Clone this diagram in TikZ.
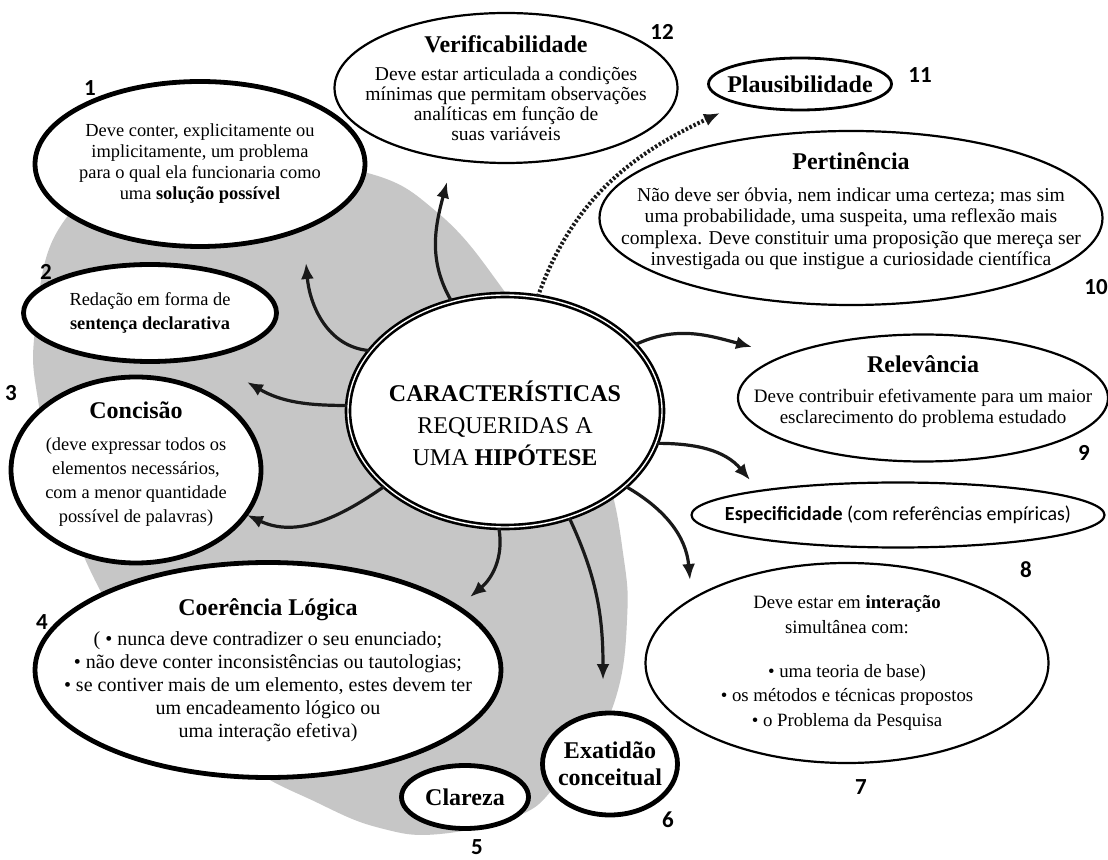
\documentclass[tikz,border=0pt]{standalone}
\usepackage{fontspec}
\setmainfont{Liberation Serif}
\newfontfamily\numfont{Carlito}
\usetikzlibrary{arrows.meta,shapes.geometric}
\definecolor{blobc}{HTML}{C6C6C6}
\tikzset{
  bub/.style={ellipse,draw,line width=1.1pt,fill=white,inner sep=0pt},
  bubthick/.style={bub,line width=2.4pt},
  txt/.style={align=center,inner sep=0pt,font=\fontsize{9.2}{10.5}\selectfont},
  num/.style={inner sep=0pt,font=\numfont\bfseries\fontsize{11.5}{12}\selectfont},
  ar/.style={-{Latex[length=8pt,width=6.5pt]},line width=1.6pt,black!90}
}
\newcommand{\ttl}[1]{{\fontsize{12}{14}\selectfont\bfseries #1}}

\begin{document}
\begin{tikzpicture}[x=0.5pt,y=-0.5pt]
\useasboundingbox (0,0) rectangle (1108,860);
\fill[white] (0,0) rectangle (1108,860);
% grey area behind the left group
\fill[blobc] plot[smooth cycle,tension=0.7] coordinates {(364,172) (438,213) (502,288) (560,380) (605,470) (624,560) (627,620) (618,690) (593,745) (557,785) (520,815) (440,834) (380,828) (318,803) (240,760) (160,680) (100,590) (60,490) (38,400) (35,330) (57,232) (120,185) (240,160)};

% bubbles
\node[bubthick,minimum width=165pt,minimum height=82.5pt] (e1) at (200,164) {};
\node[bubthick,minimum width=126.5pt,minimum height=48.5pt] (e2) at (150,313) {};
\node[bubthick,minimum width=125pt,minimum height=93pt] (e3) at (136,470) {};
\node[bubthick,minimum width=233pt,minimum height=107.5pt] (e4) at (268,670) {};
\node[bubthick,minimum width=63.5pt,minimum height=31.5pt] (e5) at (465,797) {};
\node[bubthick,minimum width=67.5pt,minimum height=51pt] (e6) at (610,764) {};
\node[bub,minimum width=201.5pt,minimum height=100pt] (e7) at (847,663) {};
\node[bub,minimum width=206.5pt,minimum height=32.5pt] (e8) at (898,515) {};
\node[bub,minimum width=185pt,minimum height=63.5pt] (e9) at (923,398) {};
\node[bub,minimum width=251.5pt,minimum height=87pt] (e10) at (851,218) {};
\node[bub,line width=1.4pt,minimum width=91.5pt,minimum height=26pt] (e11) at (800,84) {};
\node[bub,minimum width=171.5pt,minimum height=75pt] (e12) at (506,88) {};
\node[bub,minimum width=157pt,minimum height=116pt,line width=1.3pt,double=white,double distance=0.7pt] (c) at (505,411) {};

% texts
\node[txt] (t1) at (e1) {Deve conter, explicitamente ou\\implicitamente, um problema\\para o qual ela funcionaria como\\uma \textbf{solução possível}};
\node[txt,font=\fontsize{9.2}{12}\selectfont] (t2) at (e2) {Redação em forma de\\\textbf{sentença declarativa}};
\node[txt,font=\fontsize{9.2}{12}\selectfont] (t3) at ([yshift=3pt]e3) {\ttl{Concisão}\\[4pt](deve expressar todos os\\elementos necessários,\\com a menor quantidade\\possível de palavras)};
\node[txt,font=\fontsize{10}{11.5}\selectfont] (t4) at (e4) {\ttl{Coerência Lógica}\\[3.5pt]( • nunca deve contradizer o seu enunciado;\\• não deve conter inconsistências ou tautologias;\\• se contiver mais de um elemento, estes devem ter\\um encadeamento lógico ou\\uma interação efetiva)};
\node[txt] (t5) at (e5) {\ttl{Clareza}};
\node[txt,font=\fontsize{12}{13.5}\selectfont\bfseries] (t6) at (e6) {Exatidão\\conceitual};
\node[txt,font=\fontsize{9.4}{12.3}\selectfont] (t7) at (e7) {Deve estar em \textbf{interação}\\simultânea com:\\[9.5pt]• uma teoria de base)\\• os métodos e técnicas propostos\\• o Problema da Pesquisa};
\node[txt,font=\numfont\fontsize{10}{12}\selectfont] (t8) at (e8) {\textbf{Especificidade} (com referências empíricas)};
\node[txt,font=\fontsize{9.5}{10.5}\selectfont] (t9) at ([yshift=3pt]e9) {\ttl{Relevância}\\[4.5pt]Deve contribuir efetivamente para um maior\\esclarecimento do problema estudado};
\node[txt,font=\fontsize{9.8}{10.6}\selectfont] (t10) at ([yshift=3.5pt]e10) {\ttl{Pertinência}\\[5.5pt]Não deve ser óbvia, nem indicar uma certeza; mas sim\\uma probabilidade, uma suspeita, uma reflexão mais\\complexa. Deve constituir uma proposição que mereça ser\\investigada ou que instigue a curiosidade científica};
\node[txt] (t11) at (e11) {\ttl{Plausibilidade}};
\node[txt,font=\fontsize{9.8}{10}\selectfont] (t12) at (e12) {\ttl{Verificabilidade}\\[4pt]Deve estar articulada a condições\\mínimas que permitam observações\\analíticas em função de\\suas variáveis};
\node[align=center,inner sep=0pt,font=\fontsize{12}{16}\selectfont] (tc) at ([yshift=-6pt]c) {\textbf{CARACTERÍSTICAS}\\REQUERIDAS A\\UMA \textbf{HIPÓTESE}};

% numbers
\node[num] (n1) at (90,88) {1};
\node[num] (n2) at (46,272) {2};
\node[num] (n3) at (11,393) {3};
\node[num] (n4) at (42,622) {4};
\node[num] (n5) at (477,847) {5};
\node[num] (n6) at (668,820) {6};
\node[num] (n7) at (861,787) {7};
\node[num] (n8) at (1026,570) {8};
\node[num] (n9) at (1084,453) {9};
\node[num] (n10) at (1096,287) {10};
\node[num] (n11) at (920,75) {11};
\node[num] (n12) at (662,32) {12};

% arrow tips
\coordinate (h1) at (306,263);
\coordinate (h12) at (447,182);
\coordinate (h2) at (247,382);
\coordinate (h3) at (247,515);
\coordinate (h4) at (470,597);
\coordinate (h6) at (603,680);
\coordinate (h7) at (690,580);
\coordinate (h8) at (750,480);
\coordinate (h9) at (752,347);
\coordinate (h11) at (720,113);

\draw[ar] (c.156) to[out=175,in=-85] (h1);
\draw[ar] (c.116) to[out=120,in=-105] (h12);
\draw[ar] (c.178) to[out=180,in=-30] (h2);
\draw[ar] (c.212) to[out=215,in=-25] (h3);
\draw[ar] (c.267) to[out=-80,in=40] (h4);
\draw[ar] (c.301) to[out=-65,in=90] (h6);
\draw[ar] (c.328) to[out=-30,in=95] (h7);
\draw[ar] (c.348) to[out=0,in=130] (h8);
\draw[ar] (c.27) to[out=25,in=165] (h9);
\draw[ar,line width=2pt,dash pattern=on 1.2pt off 1pt] (c.74) to[out=70,in=205] (h11);
\end{tikzpicture}
\end{document}
